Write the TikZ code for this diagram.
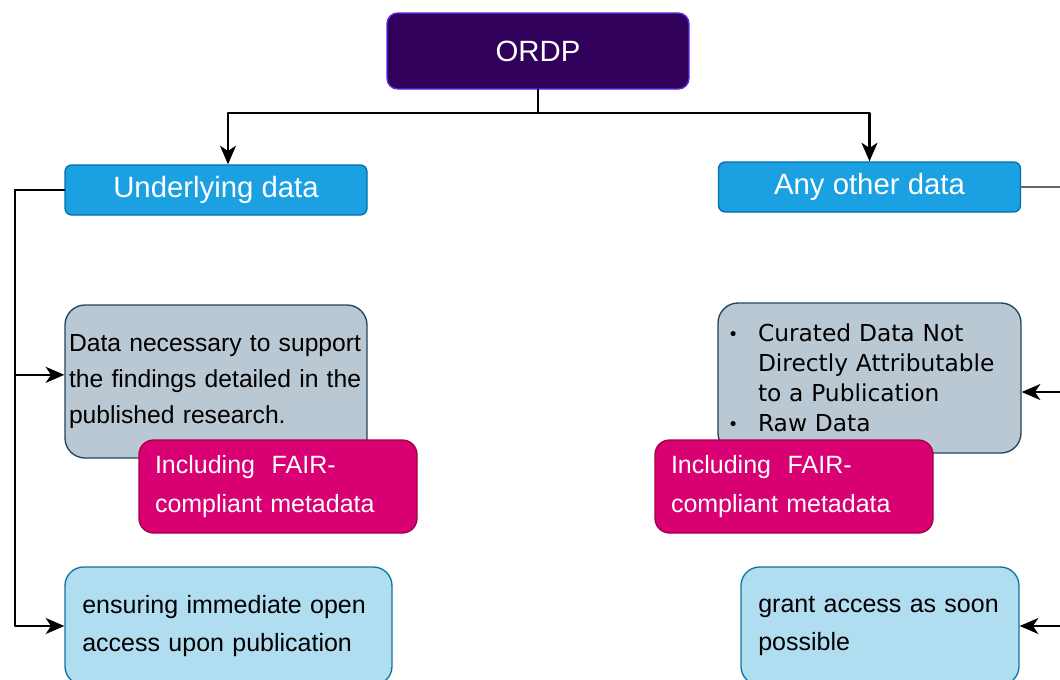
\documentclass[tikz,border=0pt]{standalone}
\usepackage{fontspec}
\setmainfont{Liberation Sans}
\newfontfamily\dejavu{DejaVu Sans}
\usetikzlibrary{arrows.meta}
\definecolor{ordpfill}{HTML}{31005A}
\definecolor{ordpline}{HTML}{5B2CE6}
\definecolor{headfill}{HTML}{1BA1E2}
\definecolor{headline}{HTML}{006EAF}
\definecolor{greyfill}{HTML}{BAC8D3}
\definecolor{greyline}{HTML}{23445D}
\definecolor{pinkfill}{HTML}{D80073}
\definecolor{pinkline}{HTML}{A50040}
\definecolor{paleblue}{HTML}{B1DDF0}
\definecolor{paleline}{HTML}{10739E}
\newcommand\bulitem{\makebox[22.5pt][l]{\fontsize{13}{13}\selectfont\raisebox{1pt}{•}}}
\begin{document}
\begin{tikzpicture}[x=.75pt,y=-.75pt,line cap=round,line join=round,
    box/.style={draw,line width=1pt,rounded corners=#1,inner ysep=0pt,align=left},
    head/.style={box=5pt,fill=headfill,draw=headline,text=white,minimum width=226.5pt,minimum height=37.5pt,align=center,font=\fontsize{22}{26}\selectfont},
    greybox/.style={box=15pt,fill=greyfill,draw=greyline},
    pinkbox/.style={box=11pt,fill=pinkfill,draw=pinkline,text=white,minimum height=69.75pt,inner xsep=12pt,text width=184.5pt,font=\fontsize{18.75}{29}\selectfont},
    bluebox/.style={box=14pt,fill=paleblue,draw=paleline,minimum height=88.5pt,inner xsep=13pt,font=\fontsize{18.75}{28.5}\selectfont},
    link/.style={line width=1.6pt,-{Stealth[length=14pt,width=12pt,inset=4pt]}}]
    \clip (0,0) rectangle (1060,679);
    % top
    \node[box=8pt,fill=ordpfill,draw=ordpline,text=white,minimum width=226.5pt,minimum height=57pt,align=center,font=\fontsize{22}{26}\selectfont] (ordp) at (538,51) {ORDP};
    \node[head] (und) at (216,190) {Underlying data};
    \node[head] (any) at (869.5,187) {Any other data};
    % left column
    \node[greybox,minimum height=114.75pt,inner xsep=3pt,text width=220.5pt,font=\fontsize{18.5}{27}\selectfont] (ugrey) at (216,381.5)
        {Data necessary to support\\the findings detailed in the\\published research.};
    \node[pinkbox] (upink) at (278,486.5) {Including~~FAIR-\\compliant metadata};
    \node[bluebox,text width=219.25pt] (ublue) at (228.5,626) {ensuring immediate open\\access upon publication};
    % right column
    \node[greybox,minimum height=112.5pt,inner xsep=7.5pt,text width=212.25pt,font=\dejavu\fontsize{17.5}{22.5}\selectfont] (agrey) at (869.5,378)
        {\bulitem Curated Data Not\\\hspace*{22.5pt}Directly Attributable\\\hspace*{22.5pt}to a Publication\\\bulitem Raw Data};
    \node[pinkbox] (apink) at (794,486.5) {Including~~FAIR-\\compliant metadata};
    \node[bluebox,text width=182.5pt] (ablue) at (880,626) {grant access as soon\\possible};
    % connectors
    \coordinate (split) at (538,113);
    \coordinate (lbus) at (15,0);
    \coordinate (rbus) at (1085,0);
    \draw[line width=1.6pt] (ordp.south) -- (split);
    \draw[link] (split) -| ([xshift=9pt]und.north);
    \draw[link] (split) -| (any.north);
    \draw[link] (und.west) -- (und.west -| lbus) |- ([yshift=5pt]ugrey.west);
    \draw[link] (und.west -| lbus) |- (ublue.west);
    \draw[line width=1.6pt,black!60] (any.east) -- (any.east -| rbus);
    \draw[link] (any.east -| rbus) |- ([yshift=-10.5pt]agrey.east);
    \draw[link] (any.east -| rbus) |- (ablue.east);
\end{tikzpicture}
\end{document}
